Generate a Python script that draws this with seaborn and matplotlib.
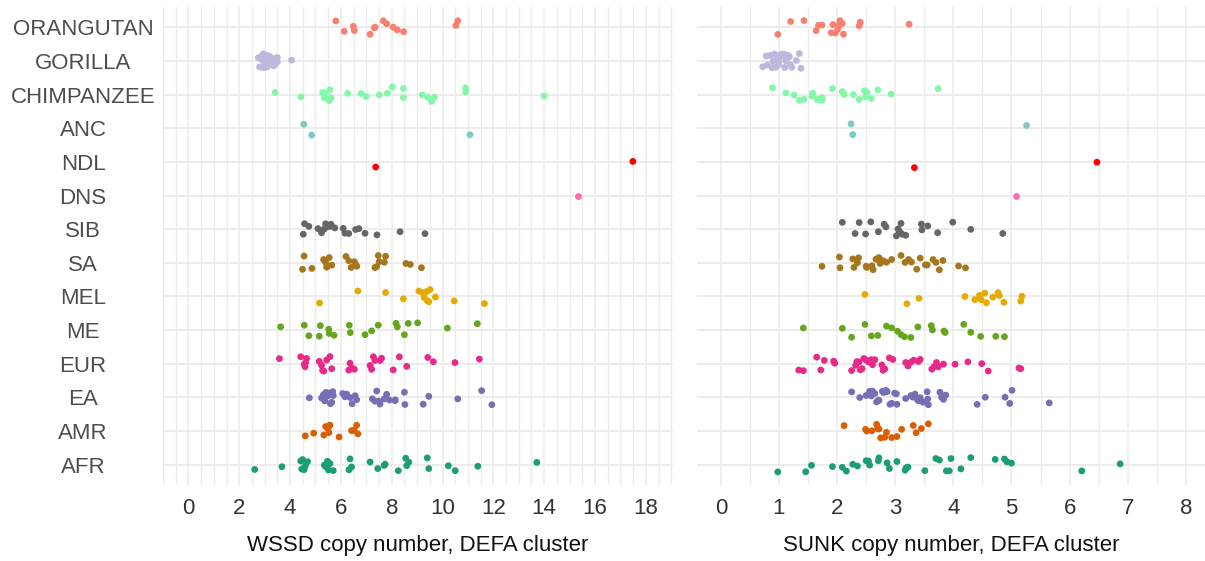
import numpy as np
import pandas as pd
import matplotlib
matplotlib.use("Agg")
import matplotlib.pyplot as plt
from matplotlib.ticker import MultipleLocator
import seaborn as sns

categories = ["ORANGUTAN", "GORILLA", "CHIMPANZEE", "ANC", "NDL", "DNS", "SIB",
              "SA", "MEL", "ME", "EUR", "EA", "AMR", "AFR"]

colors = ["#F98070", "#BDB8DC", "#84F7A8", "#7FCBC0", "#FF0000", "#FF69B4", "#666666",
          "#A6761D", "#E6AB02", "#66A61E", "#E7298A", "#7570B3", "#D95F02", "#1B9E77"]

# WSSD copy number (left panel)
wssd_orangutan = [5.80, 6.13, 6.49, 6.53, 7.15, 7.31, 7.35, 7.67, 7.80, 8.06, 8.22, 8.47, 10.53, 10.60]
wssd_gorilla = [2.75, 2.8, 2.85, 2.9, 2.9, 2.95, 3.0, 3.0, 3.05, 3.05, 3.1, 3.1, 3.1, 3.15, 3.15,
                3.2, 3.2, 3.25, 3.25, 3.3, 3.3, 3.35, 3.4, 3.45, 3.5, 3.5, 4.06]
wssd_chimpanzee = [3.41, 4.43, 5.28, 5.31, 5.35, 5.40, 5.54, 5.57, 5.61, 6.27, 6.79, 6.99, 7.51,
                   7.83, 8.02, 8.46, 8.46, 9.20, 9.42, 9.57, 9.68, 10.91, 10.91, 14.0]
wssd_anc = [4.54, 4.85, 11.08]
wssd_ndl = [7.37, 17.49]
wssd_dns = [15.32]
wssd_sib = [4.52, 4.57, 4.74, 5.10, 5.24, 5.35, 5.40, 5.44, 5.48, 5.57, 5.61, 5.76, 6.09, 6.16,
            6.31, 6.58, 6.71, 6.95, 7.42, 8.33, 9.31]
wssd_sa = [4.49, 4.55, 4.86, 5.32, 5.40, 5.44, 5.48, 5.54, 5.64, 6.20, 6.31, 6.40, 6.53, 6.58,
           6.63, 7.34, 7.41, 7.47, 7.51, 7.71, 7.76, 8.56, 8.73, 9.17]
wssd_mel = [5.16, 6.67, 7.76, 8.46, 9.07, 9.19, 9.28, 9.38, 9.40, 9.46, 9.51, 9.72, 10.46, 11.65]
wssd_me = [3.63, 4.56, 4.74, 5.15, 5.19, 5.52, 5.54, 5.73, 6.33, 6.37, 6.95, 7.21, 7.47, 8.17,
           8.22, 8.50, 8.65, 9.02, 10.19, 11.37]
wssd_eur = [3.58, 4.42, 4.56, 4.59, 4.61, 4.65, 5.15, 5.24, 5.28, 5.33, 5.44, 5.57, 5.64, 6.31,
            6.36, 6.42, 6.53, 7.15, 7.21, 7.28, 7.34, 7.54, 7.60, 8.06, 8.30, 8.59, 9.42, 9.64,
            10.49, 11.45]
wssd_ea = [4.76, 5.24, 5.31, 5.37, 5.41, 5.44, 5.48, 5.51, 5.54, 5.59, 5.64, 5.68, 5.70, 6.07,
           6.16, 6.23, 6.36, 6.44, 6.56, 6.62, 7.24, 7.34, 7.41, 7.47, 7.54, 7.70, 7.80, 7.91,
           8.13, 8.14, 8.50, 8.52, 9.24, 9.46, 10.60, 11.54, 11.94]
wssd_amr = [4.60, 4.93, 5.33, 5.40, 5.47, 5.51, 5.53, 5.57, 5.93, 6.42, 6.52, 6.62, 6.67]
wssd_afr = [2.61, 3.68, 4.42, 4.46, 4.49, 4.55, 4.60, 4.69, 5.35, 5.40, 5.47, 5.51, 5.57, 5.70,
            6.32, 6.36, 6.42, 7.15, 7.45, 7.70, 7.74, 8.26, 8.55, 8.59, 8.67, 9.40, 9.46, 10.23,
            10.50, 11.39, 13.71]

# SUNK copy number (right panel)
sunk_orangutan = [0.98, 1.20, 1.43, 1.64, 1.68, 1.74, 1.90, 1.93, 1.97, 2.01, 2.04, 2.05, 2.09,
                  2.11, 2.38, 2.40, 3.24]
sunk_gorilla = [0.72, 0.78, 0.80, 0.85, 0.88, 0.9, 0.92, 0.95, 0.97, 1.0, 1.0, 1.02, 1.03, 1.05,
                1.05, 1.07, 1.08, 1.1, 1.1, 1.12, 1.15, 1.18, 1.2, 1.22, 1.3, 1.35, 1.38]
sunk_chimpanzee = [0.89, 1.12, 1.26, 1.35, 1.43, 1.57, 1.58, 1.66, 1.70, 1.74, 1.74, 1.92, 2.09,
                   2.12, 2.28, 2.38, 2.47, 2.49, 2.52, 2.59, 2.70, 2.93, 3.74]
sunk_anc = [2.24, 2.27, 5.26]
sunk_ndl = [3.33, 6.47]
sunk_dns = [5.07]
sunk_sib = [2.09, 2.31, 2.38, 2.49, 2.58, 2.71, 2.81, 2.84, 3.02, 3.05, 3.07, 3.09, 3.10, 3.12,
            3.18, 3.45, 3.46, 3.56, 3.73, 3.99, 4.30, 4.85]
sunk_sa = [1.74, 2.04, 2.05, 2.27, 2.29, 2.35, 2.37, 2.50, 2.51, 2.60, 2.62, 2.67, 2.69, 2.72,
           2.74, 2.77, 2.79, 2.85, 2.94, 3.10, 3.17, 3.23, 3.28, 3.37, 3.43, 3.52, 3.55, 3.65,
           3.70, 3.76, 3.82, 4.09, 4.21]
sunk_mel = [2.48, 3.20, 3.41, 4.20, 4.37, 4.45, 4.48, 4.54, 4.57, 4.68, 4.77, 4.79, 4.87, 5.16, 5.18]
sunk_me = [1.42, 2.09, 2.25, 2.48, 2.59, 2.70, 2.85, 2.94, 3.04, 3.10, 3.16, 3.27, 3.39, 3.62,
           3.64, 3.84, 3.86, 4.18, 4.30, 4.47, 4.73, 4.88]
sunk_eur = [1.34, 1.42, 1.65, 1.72, 1.78, 1.94, 1.96, 2.25, 2.32, 2.34, 2.38, 2.40, 2.43, 2.46,
            2.50, 2.54, 2.59, 2.61, 2.65, 2.77, 2.79, 2.82, 2.90, 2.96, 3.18, 3.22, 3.27, 3.32,
            3.40, 3.43, 3.63, 3.67, 3.71, 3.74, 3.83, 4.03, 4.25, 4.49, 4.60, 5.13, 5.16]
sunk_ea = [2.25, 2.39, 2.50, 2.56, 2.59, 2.61, 2.65, 2.68, 2.71, 2.72, 2.78, 2.80, 2.84, 2.85,
           2.86, 2.91, 2.94, 2.99, 3.02, 3.03, 3.18, 3.27, 3.30, 3.34, 3.37, 3.40, 3.43, 3.48,
           3.55, 3.56, 3.57, 3.77, 3.80, 3.83, 3.87, 4.41, 4.55, 4.89, 4.97, 5.01, 5.65]
sunk_amr = [2.12, 2.49, 2.51, 2.60, 2.68, 2.70, 2.72, 2.75, 2.82, 2.85, 2.94, 3.03, 3.11, 3.31,
            3.36, 3.45, 3.57]
sunk_afr = [0.98, 1.46, 1.56, 1.92, 2.09, 2.16, 2.27, 2.35, 2.50, 2.54, 2.56, 2.71, 2.72, 2.86,
            2.90, 3.03, 3.17, 3.19, 3.22, 3.51, 3.70, 3.76, 3.88, 3.93, 3.96, 4.13, 4.30, 4.72,
            4.88, 4.92, 5.00, 6.21, 6.87]

wssd_values = [wssd_orangutan, wssd_gorilla, wssd_chimpanzee, wssd_anc, wssd_ndl, wssd_dns,
               wssd_sib, wssd_sa, wssd_mel, wssd_me, wssd_eur, wssd_ea, wssd_amr, wssd_afr]
sunk_values = [sunk_orangutan, sunk_gorilla, sunk_chimpanzee, sunk_anc, sunk_ndl, sunk_dns,
               sunk_sib, sunk_sa, sunk_mel, sunk_me, sunk_eur, sunk_ea, sunk_amr, sunk_afr]

x_title_left = "WSSD copy number, DEFA cluster"
x_title_right = "SUNK copy number, DEFA cluster"


def long_frame(values):
    rows = []
    for cat, vals in zip(categories, values):
        for v in vals:
            rows.append((cat, v))
    return pd.DataFrame(rows, columns=["group", "value"])


df_wssd = long_frame(wssd_values)
df_sunk = long_frame(sunk_values)
palette = dict(zip(categories, colors))

sns.set_theme(style="white")
plt.rcParams["font.family"] = ["Liberation Sans", "DejaVu Sans"]

np.random.seed(7)

W, H = 1205, 561
fig = plt.figure(figsize=(W / 100, H / 100), dpi=100)
bottom_px, top_px = 485, 7
ax1 = fig.add_axes([163 / W, (H - bottom_px) / H, (673 - 163) / W, (bottom_px - top_px) / H])
ax2 = fig.add_axes([697 / W, (H - bottom_px) / H, (1205 - 697) / W, (bottom_px - top_px) / H])

grid_col = "#EBEBEB"

for ax, df, xlim, major, title in [
    (ax1, df_wssd, (-1.0, 19.07), 2, x_title_left),
    (ax2, df_sunk, (-0.41, 8.33), 1, x_title_right),
]:
    sns.stripplot(data=df, x="value", y="group", hue="group", order=categories,
                  hue_order=categories, palette=palette, orient="h", jitter=0.22,
                  size=4.9, linewidth=0, alpha=1.0, legend=False, ax=ax, zorder=3)
    ax.set_axisbelow(True)
    ax.xaxis.set_major_locator(MultipleLocator(major))
    ax.xaxis.set_minor_locator(MultipleLocator(0.5))
    ax.xaxis.grid(True, which="major", color=grid_col, linewidth=1.1)
    ax.xaxis.grid(True, which="minor", color=grid_col, linewidth=0.9)
    ax.yaxis.grid(True, which="major", color=grid_col, linewidth=1.3)
    ax.set_xlim(*xlim)
    ax.set_ylim(len(categories) - 1 + 0.6, -0.6)
    for s in ax.spines.values():
        s.set_visible(False)
    ax.tick_params(axis="both", which="both", length=0)
    ax.tick_params(axis="x", labelsize=16, labelcolor="#333333", pad=9)
    ax.set_xlabel(title, fontsize=16, color="#111111", labelpad=12)
    ax.set_ylabel("")

ax1.tick_params(axis="y", labelsize=16, labelcolor="#4D4D4D", pad=57.6)
for lab in ax1.get_yticklabels():
    lab.set_horizontalalignment("center")
ax2.set_yticklabels([])

fig.savefig("out.png", dpi=100)
